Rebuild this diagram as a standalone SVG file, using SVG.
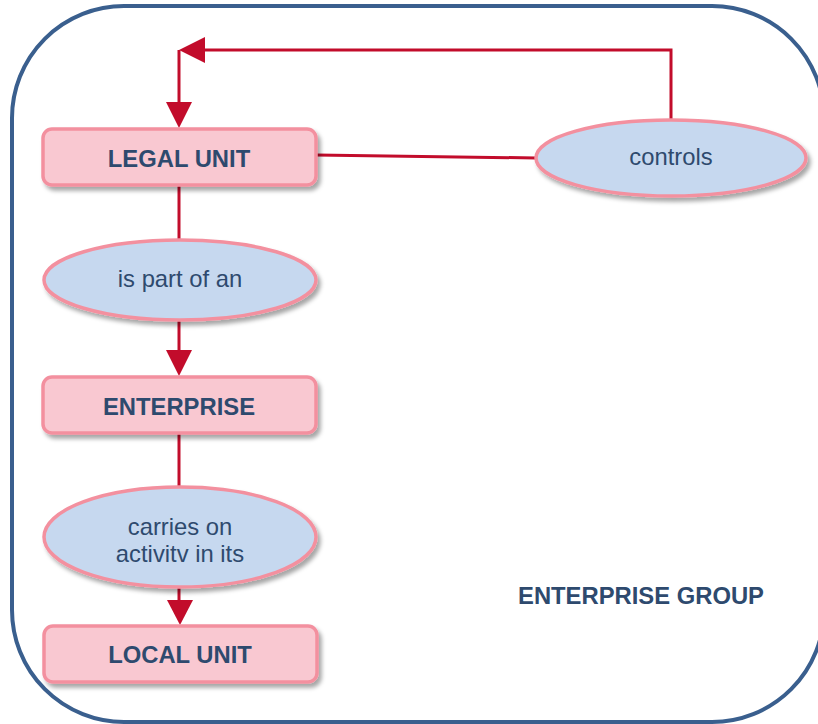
<svg xmlns="http://www.w3.org/2000/svg" width="818" height="724" viewBox="0 0 818 724">
  <defs>
    <filter id="shadow" x="-10%" y="-20%" width="130%" height="150%">
      <feDropShadow dx="3" dy="4" stdDeviation="2.2" flood-color="#000" flood-opacity="0.35"/>
    </filter>
    <style>
      .frame { fill: none; stroke: #3a5f8e; stroke-width: 4; }
      .box { fill: #f9c8d1; stroke: #f3909f; stroke-width: 3.5; filter: url(#shadow); }
      .oval { fill: #c6d8ef; stroke: #f3909f; stroke-width: 3.5; filter: url(#shadow); }
      .wire { fill: none; stroke: #c20c2b; stroke-width: 3; }
      .head { fill: #c20c2b; }
      .bold { font-family: "Liberation Sans", Arial, sans-serif; font-weight: bold; font-size: 23.8px; fill: #2e4a6e; text-anchor: middle; }
      .plain { font-family: "Liberation Sans", Arial, sans-serif; font-size: 23.8px; fill: #2e4a6e; text-anchor: middle; }
    </style>
  </defs>

  <rect class="frame" x="12" y="6" width="812" height="716" rx="112" ry="112"/>

  <g id="connectors">
    <!-- controls loop back to the legal unit -->
    <polyline class="wire" points="671,120 671,50 200,50"/>
    <polygon class="head" points="179,50 205,37 205,63"/>
    <line class="wire" x1="179" y1="50" x2="179" y2="104"/>
    <polygon class="head" points="179,128 166,102 192,102"/>
    <!-- legal unit to controls -->
    <line class="wire" x1="316" y1="155" x2="536" y2="158"/>
    <!-- legal unit -> is part of an -> enterprise -->
    <line class="wire" x1="179" y1="185" x2="179" y2="241"/>
    <line class="wire" x1="179" y1="320" x2="179" y2="352"/>
    <polygon class="head" points="179,376 166,350 192,350"/>
    <!-- enterprise -> carries on -> local unit -->
    <line class="wire" x1="179" y1="434" x2="179" y2="488"/>
    <line class="wire" x1="179" y1="587" x2="179" y2="602"/>
    <polygon class="head" points="180,625 167,600 193,600"/>
  </g>

  <g id="legal-unit">
    <rect class="box" x="43" y="129" width="273" height="56" rx="9"/>
    <text class="bold" x="179" y="167">LEGAL UNIT</text>
  </g>

  <g id="controls">
    <ellipse class="oval" cx="671" cy="158" rx="135" ry="38"/>
    <text class="plain" x="671" y="165">controls</text>
  </g>

  <g id="is-part-of">
    <ellipse class="oval" cx="180" cy="280" rx="136" ry="40"/>
    <text class="plain" x="180" y="287">is part of an</text>
  </g>

  <g id="enterprise">
    <rect class="box" x="43" y="377" width="273" height="56" rx="9"/>
    <text class="bold" x="179" y="415">ENTERPRISE</text>
  </g>

  <g id="carries-on">
    <ellipse class="oval" cx="180" cy="537" rx="136" ry="50"/>
    <text class="plain" x="180" y="535">carries on</text>
    <text class="plain" x="180" y="562">activitv in its</text>
  </g>

  <g id="local-unit">
    <rect class="box" x="44" y="626" width="273" height="56" rx="9"/>
    <text class="bold" x="180" y="663">LOCAL UNIT</text>
  </g>

  <g id="enterprise-group">
    <text class="bold" x="641" y="604">ENTERPRISE GROUP</text>
  </g>
</svg>
